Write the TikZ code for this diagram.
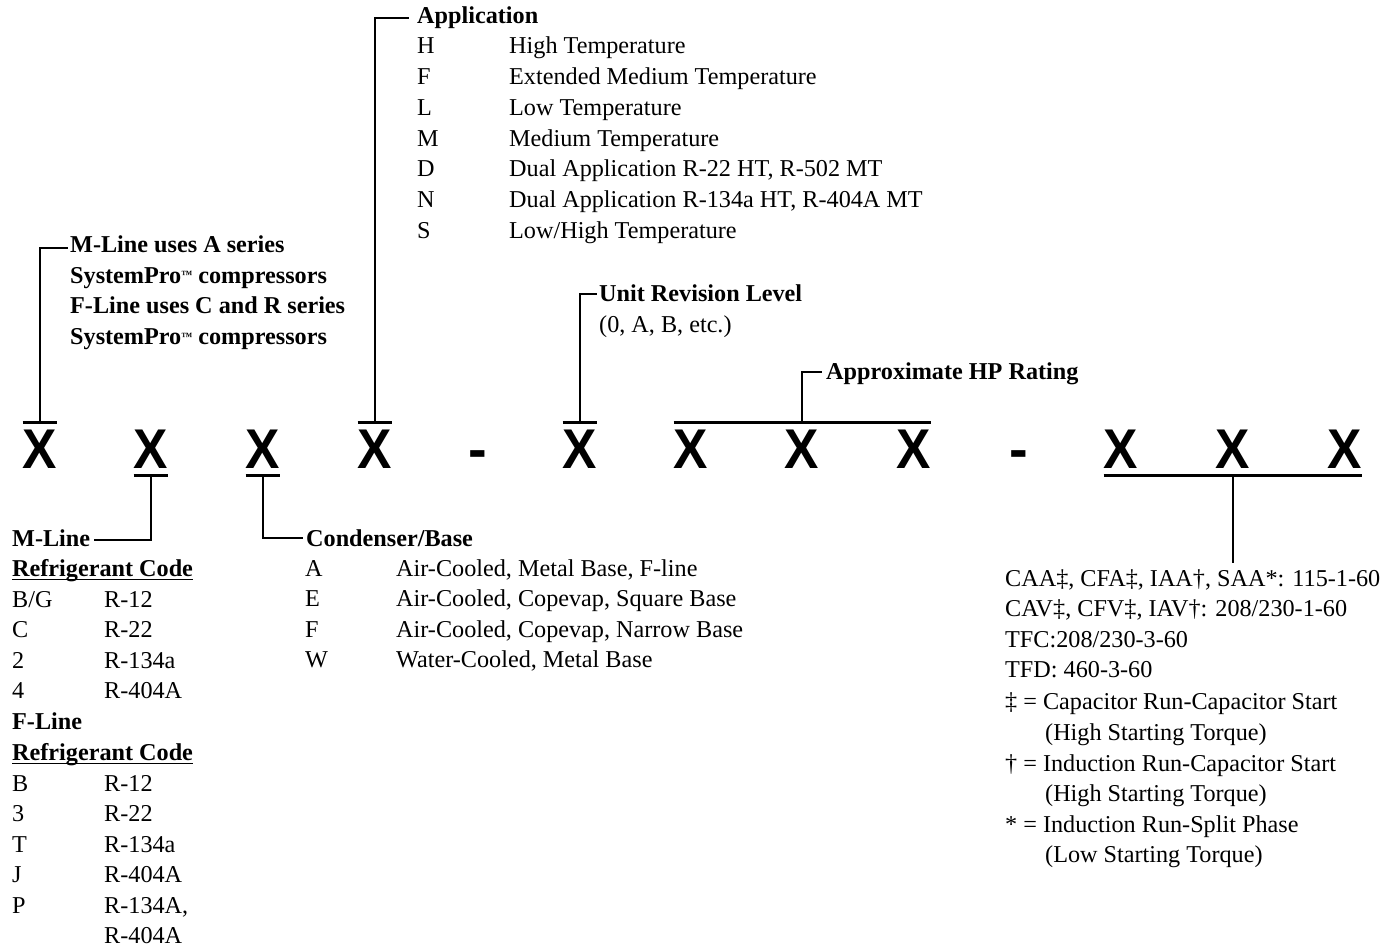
\documentclass[tikz,border=0pt]{standalone}
\usepackage{fontspec}
\setmainfont{Liberation Serif}
\newfontfamily\xfont{Liberation Sans}
\usepackage{graphicx}
\newcommand{\tmark}{\raisebox{5pt}{\fontsize{11}{11}\selectfont ™}}
\begin{document}
\begin{tikzpicture}[x=1pt,y=-1pt,
  txt/.style={anchor=base west, inner sep=0pt, text=black, font=\fontsize{24.2}{29}\selectfont},
  hd/.style={anchor=base west, inner sep=0pt, text=black, font=\fontsize{24.2}{29}\selectfont\bfseries},
  bigx/.style={anchor=base, inner sep=0pt, font=\xfont\bfseries\fontsize{56}{60}\selectfont},
  bar/.style={line width=3pt},
  conn/.style={line width=2pt},
  ul/.style={line width=1.6pt},
]
\useasboundingbox (0,0) rectangle (1392,949);

% ---- code letters
\foreach \n/\cx in {1/40,2/151,3/263,4/375,5/580,6/691,7/802,8/914,9/1121,10/1233,11/1345}
  \node[bigx] (x\n) at (\cx,468) {\scalebox{0.92}[1]{X}};
\node[bigx] (d1) at (478,468) {-};
\node[bigx] (d2) at (1019,468) {-};

% ---- bars
\foreach \n in {1,4,5}{
  \draw[bar] ([yshift=7pt]x\n.north west) -- ([yshift=7pt]x\n.north east);
  \coordinate (b\n) at ([yshift=7pt]x\n.north);
}
\foreach \n in {2,3}{
  \draw[bar] ([yshift=-7pt]x\n.south west) -- ([yshift=-7pt]x\n.south east);
  \coordinate (b\n) at ([yshift=-7pt]x\n.south);
}
\draw[bar] ([yshift=7pt]x6.north west) -- ([yshift=7pt]x8.north east);
\coordinate (b7) at ([yshift=7pt]x7.north);
\draw[bar] ([yshift=-7pt]x9.south west) -- ([yshift=-7pt]x11.south east);
\coordinate (b10) at ([yshift=-7pt]x10.south);

% ---- M-Line / F-Line note (top left)
\node[hd] (mlA) at (70,253) {M-Line uses A series};
\node[hd] (mlB) at (70,284) {SystemPro\tmark\ compressors};
\node[hd] (mlC) at (70,314) {F-Line uses C and R series};
\node[hd] (mlD) at (70,345) {SystemPro\tmark\ compressors};
\draw[conn] (b1) |- ([xshift=-2pt,yshift=-3pt]mlA.west);

% ---- Application
\node[hd] (app) at (417,24) {Application};
\draw[conn] (b4) |- ([xshift=-8pt]app.west);
\foreach \i/\c/\d in {0/H/{High Temperature},
                      1/F/{Extended Medium Temperature},
                      2/L/{Low Temperature},
                      3/M/{Medium Temperature},
                      4/D/{Dual Application R-22 HT, R-502 MT},
                      5/N/{Dual Application R-134a HT, R-404A MT},
                      6/S/{Low/High Temperature}}{
  \node[txt] (apc\i) at (417,54+30.7*\i) {\c};
  \node[txt] (apd\i) at (509,54+30.7*\i) {\d};
}

% ---- Unit revision level
\node[hd] (url) at (599,302) {Unit Revision Level};
\node[txt] (urv) at (599,333) {(0, A, B, etc.)};
\draw[conn] (b5) |- ([xshift=-2pt]url.west);

% ---- HP rating
\node[hd] (hp) at (826,380) {Approximate HP Rating};
\draw[conn] (b7) |- ([xshift=-4pt,yshift=2pt]hp.west);

% ---- Refrigerant code (bottom left)
\node[hd] (mline) at (12,546) {M-Line};
\draw[conn] (b2) |- ([xshift=4pt,yshift=-2pt]mline.east);
\node[hd] (rc1) at (12,576) {Refrigerant Code};
\draw[ul] ([yshift=-3.5pt]rc1.base west) -- ([yshift=-3.5pt]rc1.base east);
\foreach \i/\c/\v in {0/{B/G}/R-12,1/C/R-22,2/2/R-134a,3/4/R-404A}{
  \node[txt] (mc\i) at (12,607+30.5*\i) {\c};
  \node[txt] (mv\i) at (104,607+30.5*\i) {\v};
}
\node[hd] (fline) at (12,729) {F-Line};
\node[hd] (rc2) at (12,760) {Refrigerant Code};
\draw[ul] ([yshift=-3.5pt]rc2.base west) -- ([yshift=-3.5pt]rc2.base east);
\foreach \i/\c/\v in {0/B/R-12,1/3/R-22,2/T/R-134a,3/J/R-404A,4/P/{R-134A,}}{
  \node[txt] (fc\i) at (12,791+30.5*\i) {\c};
  \node[txt] (fv\i) at (104,791+30.5*\i) {\v};
}
\node[txt] (fv5) at (104,943) {R-404A};

% ---- Condenser / Base
\node[hd] (cb) at (306,546) {Condenser/Base};
\draw[conn] (b3) |- ([xshift=-3pt]cb.west);
\foreach \i/\c/\d in {0/A/{Air-Cooled, Metal Base, F-line},
                      1/E/{Air-Cooled, Copevap, Square Base},
                      2/F/{Air-Cooled, Copevap, Narrow Base},
                      3/W/{Water-Cooled, Metal Base}}{
  \node[txt] (cc\i) at (305,576+30.6*\i) {\c};
  \node[txt] (cd\i) at (396,576+30.6*\i) {\d};
}

% ---- Electrical (bottom right)
\node[txt] (r0) at (1005,586) {CAA‡, CFA‡, IAA†, SAA*: 115-1-60};
\node[txt] (r1) at (1005,616) {CAV‡, CFV‡, IAV†: 208/230-1-60};
\node[txt] (r2) at (1005,647) {TFC:208/230-3-60};
\node[txt] (r3) at (1005,677) {TFD: 460-3-60};
\node[txt] (r4) at (1005,709) {‡ = Capacitor Run-Capacitor Start};
\node[txt] (r5) at (1045,740) {(High Starting Torque)};
\node[txt] (r6) at (1005,771) {† = Induction Run-Capacitor Start};
\node[txt] (r7) at (1045,801) {(High Starting Torque)};
\node[txt] (r8) at (1005,832) {* = Induction Run-Split Phase};
\node[txt] (r9) at (1045,862) {(Low Starting Torque)};
\coordinate (e10) at (b10 |- 0,563);
\draw[conn] (b10) -- (e10);
\end{tikzpicture}
\end{document}
